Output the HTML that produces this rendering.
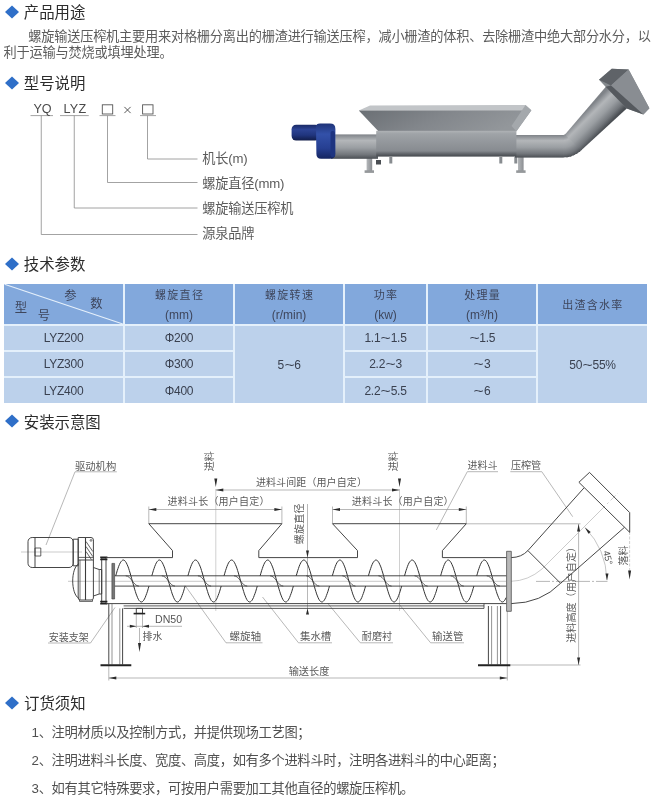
<!DOCTYPE html>
<html lang="zh-CN"><head><meta charset="utf-8">
<title>螺旋输送压榨机</title>
<style>
html,body{margin:0;padding:0;background:#fff}
body{font-family:"Liberation Sans","Noto Sans CJK SC",sans-serif}
#page{position:relative;width:660px;height:801px;overflow:hidden;background:#fff;will-change:transform}
#page section{position:static}
.tx{position:absolute;margin:0;padding:0;white-space:nowrap;font-weight:normal;overflow:hidden;font-family:"Liberation Sans","Noto Sans CJK SC",sans-serif}
.tx svg{position:absolute;left:0;top:0;display:block;overflow:visible}
.tx span{position:absolute;left:0;top:0.5px}
svg text{font-family:"Liberation Sans","Noto Sans CJK SC",sans-serif}
.dia{position:absolute}
.abs{position:absolute;display:block}
.lat{position:absolute;margin:0;white-space:nowrap;color:#4a4a4a}
table.spec{position:absolute;left:4px;top:284px;border-collapse:separate;border-spacing:0;table-layout:fixed;font-size:12px;letter-spacing:-0.25px;color:#3a4150}
table.spec td,table.spec th{padding:0;text-align:center;vertical-align:middle;font-weight:normal;position:relative;overflow:hidden;border-right:2px solid #e4f0fb;border-bottom:2px solid #e4f0fb}
table.spec th{background:#82a8dc;height:40px;color:transparent;font-size:11px;line-height:19px}
table.spec td{background:#bcd1eb}
table.spec .ht{position:absolute;left:0;top:1px;right:0;color:transparent;white-space:nowrap;overflow:hidden;height:38px}
table.spec .last{border-right:0}
table.spec tr:last-child td,table.spec td[rowspan]{border-bottom:0}
table.spec i{font-style:normal;display:inline-block;transform:scaleX(1.45);margin:0 1.8px}
</style></head><body>
<div id="page">
<section id="s1">
<svg class="dia" style="left:4px;top:4.00px" width="16" height="16" viewBox="-8 -8 16 16"><path d="M0-6.6L7 0L0 6.6L-7 0Z" fill="#2f6fc8"/></svg><h2 class="tx hd" style="left:23.75px;top:1.30px;width:64px;height:21px;font-size:15.4px;line-height:21px;color:#2c2c2c"><span>产品用途</span></h2>
<p class="tx" style="left:28.30px;top:27.90px;width:626px;height:18px;font-size:13.2px;line-height:18px;color:#5c5c5c;letter-spacing:-0.22px"><span>螺旋输送压榨机主要用来对格栅分离出的栅渣进行输送压榨，减小栅渣的体积、去除栅渣中绝大部分水分，以</span></p>
<p class="tx" style="left:3.60px;top:43.90px;width:172px;height:18px;font-size:13.2px;line-height:18px;color:#5c5c5c;letter-spacing:-0.2px"><span>利于运输与焚烧或填埋处理。</span></p>
</section>
<section id="s2">
<svg class="dia" style="left:4px;top:75.20px" width="16" height="16" viewBox="-8 -8 16 16"><path d="M0-6.6L7 0L0 6.6L-7 0Z" fill="#2f6fc8"/></svg><h2 class="tx hd" style="left:23.75px;top:72.70px;width:64px;height:21px;font-size:15.4px;line-height:21px;color:#2c2c2c"><span>型号说明</span></h2>
<svg class="abs" style="left:0;top:95px" width="300" height="150" viewBox="0 95 300 150"><g fill="none" stroke="#8c8c8c" stroke-width="0.8"><path d="M30.5 115.6H53"/><path d="M60 115.6H88.75"/><path d="M99.5 115.6H115.5"/><path d="M140 115.6H156"/><path d="M41.25 115.6V234.5H197.5"/><path d="M74.25 115.6V208H197.5"/><path d="M107.5 115.6V182.5H197.5"/><path d="M147.5 115.6V159H197.5"/></g><g fill="none" stroke="#555" stroke-width="0.9"><rect x="102.3" y="104.8" width="10.4" height="9.2"/><rect x="142.6" y="104.8" width="10.4" height="9.2"/><path d="M124.4 106.9l6.2 6.2M130.6 106.9l-6.2 6.2" stroke="#444"/></g></svg>
<div class="lat" style="left:33.4px;top:102px;font-size:12.6px;line-height:14px">YQ</div>
<div class="lat" style="left:63.4px;top:102px;font-size:12.6px;line-height:14px;letter-spacing:0.3px">LYZ</div>
<div class="lat" style="left:101px;top:102px;font-size:12.6px;line-height:14px;color:transparent;letter-spacing:8px">□×□</div>
<div class="tx" style="left:202.30px;top:149.20px;width:47px;height:18px;font-size:13.2px;line-height:18px;color:#5c5c5c;letter-spacing:-0.2px"><span>机长(m)</span></div>
<div class="tx" style="left:202.30px;top:174.80px;width:84px;height:18px;font-size:13.2px;line-height:18px;color:#5c5c5c;letter-spacing:-0.2px"><span>螺旋直径(mm)</span></div>
<div class="tx" style="left:202.30px;top:199.60px;width:94px;height:18px;font-size:13.2px;line-height:18px;color:#5c5c5c;letter-spacing:-0.2px"><span>螺旋输送压榨机</span></div>
<div class="tx" style="left:202.30px;top:224.90px;width:55px;height:18px;font-size:13.2px;line-height:18px;color:#5c5c5c;letter-spacing:-0.2px"><span>源泉品牌</span></div>
<svg class="abs" style="left:280px;top:60px" width="380" height="125" viewBox="280 60 380 125"><defs>
<linearGradient id="gTube" x1="0" y1="0" x2="0" y2="1">
 <stop offset="0" stop-color="#7f8388"/><stop offset="0.25" stop-color="#b3b6b9"/>
 <stop offset="0.55" stop-color="#9a9ea2"/><stop offset="0.82" stop-color="#73777c"/><stop offset="1" stop-color="#4a4e53"/>
</linearGradient>
<linearGradient id="gHop" x1="0" y1="0" x2="1" y2="0.25">
 <stop offset="0" stop-color="#6a6f74"/><stop offset="0.5" stop-color="#82868b"/><stop offset="1" stop-color="#93979b"/>
</linearGradient>
<linearGradient id="gBox" x1="0" y1="0" x2="0" y2="1">
 <stop offset="0" stop-color="#b0b3b6"/><stop offset="0.12" stop-color="#9fa3a7"/>
 <stop offset="0.78" stop-color="#878b90"/><stop offset="0.9" stop-color="#5f6368"/><stop offset="1" stop-color="#45494e"/>
</linearGradient>
<linearGradient id="gBlue" x1="0" y1="0" x2="0" y2="1">
 <stop offset="0" stop-color="#1a2a66"/><stop offset="0.3" stop-color="#2c4394"/>
 <stop offset="0.65" stop-color="#20357e"/><stop offset="1" stop-color="#111c48"/>
</linearGradient>
<linearGradient id="gBlue2" x1="0" y1="0" x2="0" y2="1">
 <stop offset="0" stop-color="#1f3479"/><stop offset="0.3" stop-color="#3351a9"/>
 <stop offset="0.7" stop-color="#263f92"/><stop offset="1" stop-color="#152560"/>
</linearGradient>
<linearGradient id="gPipe" gradientUnits="userSpaceOnUse" x1="583" y1="108" x2="606" y2="130">
 <stop offset="0" stop-color="#62666b"/><stop offset="0.3" stop-color="#a2a6aa"/>
 <stop offset="0.6" stop-color="#868a8f"/><stop offset="1" stop-color="#4a4e53"/>
</linearGradient>
<linearGradient id="gLeg" x1="0" y1="0" x2="1" y2="0">
 <stop offset="0" stop-color="#b4b7ba"/><stop offset="1" stop-color="#8b8e92"/>
</linearGradient>
</defs><rect x="366.6" y="150" width="5.6" height="22" fill="url(#gLeg)"/><rect x="364.6" y="170.3" width="9.4" height="2.6" fill="#95989b"/><rect x="518" y="150" width="5.6" height="22" fill="url(#gLeg)"/><rect x="516.2" y="170.3" width="9.4" height="2.6" fill="#95989b"/><rect x="389.3" y="157" width="3" height="6.5" fill="#888c90"/><rect x="499.3" y="157" width="3" height="6.5" fill="#888c90"/><rect x="514.3" y="157" width="3" height="6.5" fill="#888c90"/><rect x="376" y="160" width="5" height="4.5" fill="#4a4e53"/><rect x="331" y="134.4" width="47" height="24.4" fill="url(#gTube)"/><rect x="515" y="135" width="48.3" height="22.6" fill="url(#gTube)"/><linearGradient id="gE0" href="#gTube" gradientUnits="userSpaceOnUse" x1="563.4" y1="135.0" x2="565.7" y2="157.5"/><path d="M563.0 135.0L563.0 157.6L568.3 157.1L563.8 134.9Z" fill="url(#gE0)"/><linearGradient id="gE1" href="#gTube" gradientUnits="userSpaceOnUse" x1="563.9" y1="134.9" x2="569.1" y2="156.9"/><path d="M563.5 135.0L566.5 157.4L571.7 156.2L564.3 134.8Z" fill="url(#gE1)"/><linearGradient id="gE2" href="#gTube" gradientUnits="userSpaceOnUse" x1="564.4" y1="134.7" x2="572.4" y2="155.9"/><path d="M564.0 134.9L569.9 156.7L574.9 154.8L564.8 134.6Z" fill="url(#gE2)"/><linearGradient id="gE3" href="#gTube" gradientUnits="userSpaceOnUse" x1="564.9" y1="134.5" x2="575.6" y2="154.4"/><path d="M564.5 134.7L573.2 155.6L577.9 153.1L565.2 134.3Z" fill="url(#gE3)"/><linearGradient id="gE4" href="#gTube" gradientUnits="userSpaceOnUse" x1="565.3" y1="134.2" x2="578.5" y2="152.6"/><path d="M565.0 134.5L576.3 154.0L580.6 150.9L565.7 134.0Z" fill="url(#gE4)"/><linearGradient id="gE5" href="#gTube" gradientUnits="userSpaceOnUse" x1="565.7" y1="134.0" x2="580.6" y2="150.9"/><path d="M565.4 134.2L579.2 152.1L582.0 149.6L565.9 133.8Z" fill="url(#gE5)"/><linearGradient id="gPipe2" href="#gTube" gradientUnits="userSpaceOnUse" x1="583.8" y1="112.8" x2="601.8" y2="130.8"/><path d="M565.0 134.6L606 86.4L627 108.2L581.0 150.6Z" fill="url(#gPipe2)"/><path d="M599 79.8 L611.8 68.8 L628.6 69.6 L649.4 108.2 L643.4 114.4 L626.8 108.6 L605.6 86.8Z" fill="#858a8e"/><path d="M599 79.8 L611.8 68.8 L628.6 69.6 L611 85.5Z" fill="#5f6368"/><path d="M611 85.5 L628.6 69.6 L649.4 108.2 L643.4 114.4Z" fill="#898d92"/><path d="M605.6 86.8 L611 85.5 L643.4 114.4 L626.8 108.6Z" fill="#55595e"/><path d="M358.8 110.6 L370 105.6 L525.5 105 L531.4 110.2Z" fill="#c2c5c8"/><path d="M358.8 110.6 L531.4 110.2 L516.4 131.2 L378.6 131.4Z" fill="url(#gHop)"/><path d="M516.4 131.2 L531.4 110.2 L525.5 105 L511.5 126Z" fill="#a4a8ac"/><rect x="376.2" y="130.8" width="140.2" height="25.8" fill="url(#gBox)"/><rect x="291.6" y="124.8" width="28" height="15.8" rx="4.5" fill="url(#gBlue)"/><path d="M316 127 Q316 123.6 320 123.6 L330 123.6 Q335.4 123.6 335.4 129 L335.4 154 Q335.4 158.8 330 158.8 L321 158.8 Q316.4 158.8 316.4 154Z" fill="url(#gBlue2)"/><rect x="330.5" y="131" width="4.5" height="26" rx="2" fill="#1e3480"/></svg>
</section>
<section id="s3">
<svg class="dia" style="left:4px;top:255.80px" width="16" height="16" viewBox="-8 -8 16 16"><path d="M0-6.6L7 0L0 6.6L-7 0Z" fill="#2f6fc8"/></svg><h2 class="tx hd" style="left:23.75px;top:253.80px;width:64px;height:21px;font-size:15.4px;line-height:21px;color:#2c2c2c"><span>技术参数</span></h2>
<table class="spec"><tr style="height:42px"><th style="width:119px"><span class="ht">参数 / 型号</span></th><th style="width:108px"><span class="ht">螺旋直径<br>(mm)</span></th><th style="width:108px"><span class="ht">螺旋转速<br>(r/min)</span></th><th style="width:81px"><span class="ht">功率<br>(kw)</span></th><th style="width:108px"><span class="ht">处理量<br>(m³/h)</span></th><th class="last" style="width:109px"><span class="ht">出渣含水率</span></th></tr><tr style="height:26px"><td>LYZ200</td><td>Φ200</td><td rowspan="3">5<i>~</i>6</td><td>1.1<i>~</i>1.5</td><td><i>~</i>1.5</td><td class="last" rowspan="3">50<i>~</i>55%</td></tr><tr style="height:26px"><td>LYZ300</td><td>Φ300</td><td>2.2<i>~</i>3</td><td><i>~</i>3</td></tr><tr style="height:25px"><td>LYZ400</td><td>Φ400</td><td>2.2<i>~</i>5.5</td><td><i>~</i>6</td></tr></table>
<svg class="abs" style="left:0;top:282px;pointer-events:none" width="660" height="44" viewBox="0 282 660 44"><path d="M4.5 284.3L122.8 324" stroke="#e6f0fb" stroke-width="1.1" fill="none"/>
<text x="70.4" y="299.87" font-size="12.3" text-anchor="middle" fill="#3e465c">参</text>
<text x="96.5" y="307.87" font-size="12.3" text-anchor="middle" fill="#3e465c">数</text>
<text x="20.8" y="312.27" font-size="12.3" text-anchor="middle" fill="#3e465c">型</text>
<text x="44" y="320.27" font-size="12.3" text-anchor="middle" fill="#3e465c">号</text>
<text x="179.6" y="299.38" font-size="11" text-anchor="middle" letter-spacing="1.3" fill="#3e465c">螺旋直径</text>
<text x="179" y="318.56" font-size="12" text-anchor="middle" fill="#3e465c">(mm)</text>
<text x="289.6" y="299.38" font-size="11" text-anchor="middle" letter-spacing="1.3" fill="#3e465c">螺旋转速</text>
<text x="289" y="318.56" font-size="12" text-anchor="middle" fill="#3e465c">(r/min)</text>
<text x="386.1" y="299.38" font-size="11" text-anchor="middle" letter-spacing="1.3" fill="#3e465c">功率</text>
<text x="385.5" y="318.56" font-size="12" text-anchor="middle" fill="#3e465c">(kw)</text>
<text x="482.6" y="299.38" font-size="11" text-anchor="middle" letter-spacing="1.3" fill="#3e465c">处理量</text>
<text x="482" y="318.56" font-size="12" text-anchor="middle" fill="#3e465c">(m³/h)</text>
<text x="592.9" y="308.58" font-size="11" text-anchor="middle" letter-spacing="1.3" fill="#3e465c">出渣含水率</text>
</svg>
</section>
<section id="s4">
<svg class="dia" style="left:4px;top:413.30px" width="16" height="16" viewBox="-8 -8 16 16"><path d="M0-6.6L7 0L0 6.6L-7 0Z" fill="#2f6fc8"/></svg><h2 class="tx hd" style="left:23.75px;top:411.10px;width:79px;height:21px;font-size:15.4px;line-height:21px;color:#2c2c2c"><span>安装示意图</span></h2>
<svg class="abs" style="left:0;top:440px" width="660" height="250" viewBox="0 440 660 250">
<g fill="none" stroke="#9a9a9a" stroke-width="0.7">
<path d="M21 552H82" stroke="#b5b5b5"/>
<path d="M68 581.3H506" stroke="#b0b0b0"/>
<path d="M215.8 489V611M399.5 489V611" stroke="#bcbcbc"/>
<path d="M148.8 506.5V523.5M281.9 506.5V523.5M148.8 509.5H281.9"/>
<path d="M332.5 506.5V523.5M466.3 506.5V523.5M332.5 509.5H466.3"/>
<path d="M215.8 490H399.5"/>
<path d="M307.5 504V614"/>
<path d="M466.3 523.8H580.5M510 665H580.5M578.6 524V665"/>
<path d="M108.8 666V680.5M507.3 611V680.5M108.8 678H507.3"/>
<path d="M136.3 613.5V628M142.5 613.5V628M127 626.3H182"/>
<path d="M139.5 628V646"/>
<path d="M536 581.4H607.5" stroke-dasharray="14 2 2 2"/>
<path d="M606.9 580 A78 78 0 0 0 585 527.6" stroke="#adadad"/>
<path d="M629.6 532V571" stroke="#bdbdbd" stroke-dasharray="3 1.5"/>
<path d="M511 581.3 Q528 581 542 569 L600 511" stroke="#b4b4b4"/>
<path d="M600 511L618 493" stroke="#b4b4b4" stroke-dasharray="7 3 2 3"/>
<path d="M116.8 471.8L75 471.8L46 545"/>
<path d="M48 643L90.5 643L115 607.5"/>
<path d="M262.5 642.8L226 642.8L185 585.5"/>
<path d="M332 642.8L298.5 642.8L262.5 597"/>
<path d="M393 642.8L360.3 642.8L327.5 603"/>
<path d="M464 642.8L430.6 642.8L399 604"/>
<path d="M498 471.7L467.3 471.7L436.3 530"/>
<path d="M510.3 471.7L541.8 471.7L572.7 516.7"/>
</g>
<g fill="none" stroke="#3c3c3c" stroke-width="0.95" stroke-linejoin="round">
<rect x="28" y="537.5" width="45.2" height="30" rx="4.2"/>
<path d="M35 537.5V567.5"/>
<rect x="35" y="548" width="5.8" height="8" stroke-width="0.8"/>
<rect x="73.2" y="539.2" width="5" height="26.6"/>
<path d="M78.2 537.5H91Q93.4 537.5 93.4 540V560H78.2Z"/>
<path d="M85.5 538V600" stroke-width="1.1"/>
<path d="M86 541.5L92.8 551.5M86 546.5L92.8 556.5M86 551.5L91.4 559.5M78.2 557.4H93.4" stroke-width="0.8"/>
<circle cx="91" cy="540.4" r="0.9" stroke-width="0.7"/>
<path d="M79.5 600V601.4H92.5V600" stroke-width="0.8"/>
<path d="M78.2 560V598Q78.2 600 80.5 600H91Q93.4 600 93.4 598V560"/>
<path d="M79 563.5C70.6 568 70.6 594 79 598.5" />
<path d="M80 560V600" stroke-width="0.7"/>
<path d="M93.4 567.5L99.2 569.5H101.7V594H99.2L93.4 596"/>
<path d="M99.2 569.5V594" stroke-width="0.7"/>
<rect x="101.7" y="558" width="4.3" height="45.2"/>
<path d="M100.2 557.2H107.4M100.2 559.4H107.4M100.2 601.6H107.4M100.2 603.8H107.4" stroke="#222" stroke-width="1.6"/>
<path d="M106 557.6H172.5V550.6L148.8 523.7H281.9L258.8 550.6V557.6H357.5V550.6L332.5 523.7H466.3L442.4 550.6V557.6H506.6"/>
<path d="M172.5 550.6H258.8M357.5 550.6H442.4" stroke-width="0"/>
<path d="M106 603.6H506.6"/>
<path d="M123.6 605.9H484M123.6 608.4H484V603.6" stroke-width="0.85"/>
<rect x="111.9" y="563.4" width="2.7" height="35.6" fill="#777" stroke-width="0.6"/>
<path d="M114.8 575.8H506.6M114.8 586.1H506.6"/>
<path d="M115.7 575.8L116.5 573.2L117.2 570.7L118.0 568.4L118.7 566.3L119.5 564.4L120.2 562.9L121.0 561.7L121.8 560.8L122.5 560.2L123.3 560.0L124.0 560.2L124.8 560.7L125.5 561.6L126.3 562.8L127.0 564.3L127.8 566.1L128.6 568.2L129.3 570.5L130.1 573.0L130.8 575.6L131.6 578.3L132.3 581.1L133.1 583.8L133.9 586.5L134.6 589.1L135.4 591.6L136.1 593.9L136.9 595.9L137.6 597.7L138.4 599.3L139.1 600.5L139.9 601.3L140.7 601.8L141.4 602.0L142.2 601.8L142.9 601.2L143.7 600.3L144.4 599.1L145.2 597.5L145.9 595.6L146.7 593.5L147.5 591.2L148.2 588.7L149.0 586.1M151.8 575.8L152.6 573.2L153.3 570.7L154.1 568.4L154.8 566.3L155.6 564.4L156.3 562.9L157.1 561.7L157.9 560.8L158.6 560.2L159.4 560.0L160.1 560.2L160.9 560.7L161.6 561.6L162.4 562.8L163.1 564.3L163.9 566.1L164.7 568.2L165.4 570.5L166.2 573.0L166.9 575.6L167.7 578.3L168.4 581.1L169.2 583.8L170.0 586.5L170.7 589.1L171.5 591.6L172.2 593.9L173.0 595.9L173.7 597.7L174.5 599.3L175.2 600.5L176.0 601.3L176.8 601.8L177.5 602.0L178.3 601.8L179.0 601.2L179.8 600.3L180.5 599.1L181.3 597.5L182.0 595.6L182.8 593.5L183.6 591.2L184.3 588.7L185.1 586.1M187.9 575.8L188.7 573.2L189.4 570.7L190.2 568.4L190.9 566.3L191.7 564.4L192.4 562.9L193.2 561.7L194.0 560.8L194.7 560.2L195.5 560.0L196.2 560.2L197.0 560.7L197.7 561.6L198.5 562.8L199.2 564.3L200.0 566.1L200.8 568.2L201.5 570.5L202.3 573.0L203.0 575.6L203.8 578.3L204.5 581.1L205.3 583.8L206.1 586.5L206.8 589.1L207.6 591.6L208.3 593.9L209.1 595.9L209.8 597.7L210.6 599.3L211.3 600.5L212.1 601.3L212.9 601.8L213.6 602.0L214.4 601.8L215.1 601.2L215.9 600.3L216.6 599.1L217.4 597.5L218.1 595.6L218.9 593.5L219.7 591.2L220.4 588.7L221.2 586.1M224.0 575.8L224.8 573.2L225.5 570.7L226.3 568.4L227.0 566.3L227.8 564.4L228.5 562.9L229.3 561.7L230.1 560.8L230.8 560.2L231.6 560.0L232.3 560.2L233.1 560.7L233.8 561.6L234.6 562.8L235.3 564.3L236.1 566.1L236.9 568.2L237.6 570.5L238.4 573.0L239.1 575.6L239.9 578.3L240.6 581.1L241.4 583.8L242.2 586.5L242.9 589.1L243.7 591.6L244.4 593.9L245.2 595.9L245.9 597.7L246.7 599.3L247.4 600.5L248.2 601.3L249.0 601.8L249.7 602.0L250.5 601.8L251.2 601.2L252.0 600.3L252.7 599.1L253.5 597.5L254.2 595.6L255.0 593.5L255.8 591.2L256.5 588.7L257.3 586.1M260.1 575.8L260.9 573.2L261.6 570.7L262.4 568.4L263.1 566.3L263.9 564.4L264.6 562.9L265.4 561.7L266.2 560.8L266.9 560.2L267.7 560.0L268.4 560.2L269.2 560.7L269.9 561.6L270.7 562.8L271.4 564.3L272.2 566.1L273.0 568.2L273.7 570.5L274.5 573.0L275.2 575.6L276.0 578.3L276.7 581.1L277.5 583.8L278.3 586.5L279.0 589.1L279.8 591.6L280.5 593.9L281.3 595.9L282.0 597.7L282.8 599.3L283.5 600.5L284.3 601.3L285.1 601.8L285.8 602.0L286.6 601.8L287.3 601.2L288.1 600.3L288.8 599.1L289.6 597.5L290.3 595.6L291.1 593.5L291.9 591.2L292.6 588.7L293.4 586.1M296.2 575.8L297.0 573.2L297.7 570.7L298.5 568.4L299.2 566.3L300.0 564.4L300.7 562.9L301.5 561.7L302.3 560.8L303.0 560.2L303.8 560.0L304.5 560.2L305.3 560.7L306.0 561.6L306.8 562.8L307.5 564.3L308.3 566.1L309.1 568.2L309.8 570.5L310.6 573.0L311.3 575.6L312.1 578.3L312.8 581.1L313.6 583.8L314.4 586.5L315.1 589.1L315.9 591.6L316.6 593.9L317.4 595.9L318.1 597.7L318.9 599.3L319.6 600.5L320.4 601.3L321.2 601.8L321.9 602.0L322.7 601.8L323.4 601.2L324.2 600.3L324.9 599.1L325.7 597.5L326.4 595.6L327.2 593.5L328.0 591.2L328.7 588.7L329.5 586.1M332.3 575.8L333.1 573.2L333.8 570.7L334.6 568.4L335.3 566.3L336.1 564.4L336.8 562.9L337.6 561.7L338.4 560.8L339.1 560.2L339.9 560.0L340.6 560.2L341.4 560.7L342.1 561.6L342.9 562.8L343.6 564.3L344.4 566.1L345.2 568.2L345.9 570.5L346.7 573.0L347.4 575.6L348.2 578.3L348.9 581.1L349.7 583.8L350.5 586.5L351.2 589.1L352.0 591.6L352.7 593.9L353.5 595.9L354.2 597.7L355.0 599.3L355.7 600.5L356.5 601.3L357.3 601.8L358.0 602.0L358.8 601.8L359.5 601.2L360.3 600.3L361.0 599.1L361.8 597.5L362.5 595.6L363.3 593.5L364.1 591.2L364.8 588.7L365.6 586.1M368.4 575.8L369.2 573.2L369.9 570.7L370.7 568.4L371.4 566.3L372.2 564.4L372.9 562.9L373.7 561.7L374.5 560.8L375.2 560.2L376.0 560.0L376.7 560.2L377.5 560.7L378.2 561.6L379.0 562.8L379.7 564.3L380.5 566.1L381.3 568.2L382.0 570.5L382.8 573.0L383.5 575.6L384.3 578.3L385.0 581.1L385.8 583.8L386.6 586.5L387.3 589.1L388.1 591.6L388.8 593.9L389.6 595.9L390.3 597.7L391.1 599.3L391.8 600.5L392.6 601.3L393.4 601.8L394.1 602.0L394.9 601.8L395.6 601.2L396.4 600.3L397.1 599.1L397.9 597.5L398.6 595.6L399.4 593.5L400.2 591.2L400.9 588.7L401.7 586.1M404.5 575.8L405.3 573.2L406.0 570.7L406.8 568.4L407.5 566.3L408.3 564.4L409.0 562.9L409.8 561.7L410.6 560.8L411.3 560.2L412.1 560.0L412.8 560.2L413.6 560.7L414.3 561.6L415.1 562.8L415.8 564.3L416.6 566.1L417.4 568.2L418.1 570.5L418.9 573.0L419.6 575.6L420.4 578.3L421.1 581.1L421.9 583.8L422.7 586.5L423.4 589.1L424.2 591.6L424.9 593.9L425.7 595.9L426.4 597.7L427.2 599.3L427.9 600.5L428.7 601.3L429.5 601.8L430.2 602.0L431.0 601.8L431.7 601.2L432.5 600.3L433.2 599.1L434.0 597.5L434.7 595.6L435.5 593.5L436.3 591.2L437.0 588.7L437.8 586.1M440.6 575.8L441.4 573.2L442.1 570.7L442.9 568.4L443.6 566.3L444.4 564.4L445.1 562.9L445.9 561.7L446.7 560.8L447.4 560.2L448.2 560.0L448.9 560.2L449.7 560.7L450.4 561.6L451.2 562.8L451.9 564.3L452.7 566.1L453.5 568.2L454.2 570.5L455.0 573.0L455.7 575.6L456.5 578.3L457.2 581.1L458.0 583.8L458.8 586.5L459.5 589.1L460.3 591.6L461.0 593.9L461.8 595.9L462.5 597.7L463.3 599.3L464.0 600.5L464.8 601.3L465.6 601.8L466.3 602.0L467.1 601.8L467.8 601.2L468.6 600.3L469.3 599.1L470.1 597.5L470.8 595.6L471.6 593.5L472.4 591.2L473.1 588.7L473.9 586.1M476.7 575.8L477.5 573.2L478.2 570.7L479.0 568.4L479.7 566.3L480.5 564.4L481.2 562.9L482.0 561.7L482.8 560.8L483.5 560.2L484.3 560.0L485.0 560.2L485.8 560.7L486.5 561.6L487.3 562.8L488.0 564.3L488.8 566.1L489.6 568.2L490.3 570.5L491.1 573.0L491.8 575.6L492.6 578.3L493.3 581.1L494.1 583.8L494.9 586.5L495.6 589.1L496.4 591.6L497.1 593.9L497.9 595.9L498.6 597.7L499.4 599.3L500.1 600.5L500.9 601.3L501.7 601.8L502.4 602.0L503.2 601.8L503.9 601.2L504.7 600.3L505.4 599.1L506.2 597.5" stroke="#333" stroke-width="1"/>
<path d="M125.7 575.8C131.2 575.8 133.4 586.1 138.9 586.1M161.8 575.8C167.3 575.8 169.5 586.1 175.0 586.1M197.9 575.8C203.4 575.8 205.6 586.1 211.1 586.1M234.0 575.8C239.5 575.8 241.7 586.1 247.2 586.1M270.1 575.8C275.6 575.8 277.8 586.1 283.3 586.1M306.2 575.8C311.7 575.8 313.9 586.1 319.4 586.1M342.3 575.8C347.8 575.8 350.0 586.1 355.5 586.1M378.4 575.8C383.9 575.8 386.1 586.1 391.6 586.1M414.5 575.8C420.0 575.8 422.2 586.1 427.7 586.1M450.6 575.8C456.1 575.8 458.3 586.1 463.8 586.1M486.7 575.8C492.2 575.8 494.4 586.1 499.9 586.1" stroke-width="0.8"/>
<rect x="506.6" y="551.3" width="4.7" height="60" fill="#b8b8b8" stroke="#505050" stroke-width="0.8"/>
<path d="M511.3 557.6Q521.5 557.4 527.9 550.6L583.9 488"/>
<path d="M511.3 603.6Q541 603.2 560.6 583.3L624.4 527.4"/>
<path d="M527.9 550.6L560.6 583.3"/>
<path d="M578.9 482.3L589.5 472.4L629.7 512.6V532.3Z"/>
<path d="M108.8 604V664.5M122.6 608.4V664.5M488.4 606V664.5M500.6 606V664.5"/>
<path d="M112 604V664.5M119.8 608.4V664.5M491.6 606V664.5M497.4 606V664.5" stroke-width="0.7" stroke="#666"/>
<path d="M100.5 665.2H131.3M478 665.2H510.3" stroke="#222" stroke-width="2"/>
<rect x="136.3" y="608.4" width="6.2" height="5"/>
<path d="M133.6 613.6H145.2" stroke="#222" stroke-width="1.6"/>
</g>
<path d="M148.80 509.50L156.30 508.00L156.30 511.00Z" fill="#2a2a2a"/>
<path d="M281.90 509.50L274.40 511.00L274.40 508.00Z" fill="#2a2a2a"/>
<path d="M332.50 509.50L340.00 508.00L340.00 511.00Z" fill="#2a2a2a"/>
<path d="M466.30 509.50L458.80 511.00L458.80 508.00Z" fill="#2a2a2a"/>
<path d="M215.80 490.00L223.30 488.50L223.30 491.50Z" fill="#2a2a2a"/>
<path d="M399.50 490.00L392.00 491.50L392.00 488.50Z" fill="#2a2a2a"/>
<path d="M215.80 487.00L214.30 478.50L217.30 478.50Z" fill="#2a2a2a"/>
<path d="M399.50 487.00L398.00 478.50L401.00 478.50Z" fill="#2a2a2a"/>
<path d="M307.50 557.40L306.00 550.40L309.00 550.40Z" fill="#2a2a2a"/>
<path d="M307.50 608.60L309.00 614.60L306.00 614.60Z" fill="#2a2a2a"/>
<path d="M578.60 524.00L580.10 531.50L577.10 531.50Z" fill="#2a2a2a"/>
<path d="M578.60 665.00L577.10 657.50L580.10 657.50Z" fill="#2a2a2a"/>
<path d="M108.80 678.00L116.30 676.50L116.30 679.50Z" fill="#2a2a2a"/>
<path d="M507.30 678.00L499.80 679.50L499.80 676.50Z" fill="#2a2a2a"/>
<path d="M136.30 626.30L129.80 627.80L129.80 624.80Z" fill="#2a2a2a"/>
<path d="M142.50 626.30L149.00 624.80L149.00 627.80Z" fill="#2a2a2a"/>
<path d="M139.50 652.00L138.00 643.00L141.00 643.00Z" fill="#2a2a2a"/>
<path d="M585.00 527.60L590.72 531.90L588.46 533.87Z" fill="#2a2a2a"/>
<path d="M607.00 580.50L605.50 573.50L608.50 573.50Z" fill="#2a2a2a"/>
<path d="M629.60 579.50L628.10 570.50L631.10 570.50Z" fill="#2a2a2a"/>
<g transform="translate(75.00,465.80)"><text x="0" y="3.9" font-size="10.3" text-anchor="start" fill="#5a5a5a">驱动机构</text></g>
<g transform="translate(48.80,636.70)"><text x="0" y="3.8" font-size="10.0" text-anchor="start" fill="#5a5a5a">安装支架</text></g>
<g transform="translate(142.60,636.00)"><text x="0" y="3.7" font-size="9.8" text-anchor="start" fill="#5a5a5a">排水</text></g>
<g transform="translate(229.40,636.20)"><text x="0" y="4.0" font-size="10.6" text-anchor="start" fill="#5a5a5a">螺旋轴</text></g>
<g transform="translate(300.00,636.20)"><text x="0" y="4.0" font-size="10.4" text-anchor="start" fill="#5a5a5a">集水槽</text></g>
<g transform="translate(361.80,636.20)"><text x="0" y="3.8" font-size="10.1" text-anchor="start" fill="#5a5a5a">耐磨衬</text></g>
<g transform="translate(432.10,636.20)"><text x="0" y="4.0" font-size="10.4" text-anchor="start" fill="#5a5a5a">输送管</text></g>
<g transform="translate(467.50,465.20)"><text x="0" y="3.8" font-size="10.0" text-anchor="start" fill="#5a5a5a">进料斗</text></g>
<g transform="translate(510.90,465.20)"><text x="0" y="3.8" font-size="10.1" text-anchor="start" fill="#5a5a5a">压榨管</text></g>
<g transform="translate(309.00,670.60)"><text x="0" y="3.9" font-size="10.2" text-anchor="middle" fill="#5a5a5a">输送长度</text></g>
<g transform="translate(167.60,501.60)"><text x="0" y="3.8" font-size="10" text-anchor="start" letter-spacing="0.2" fill="#5a5a5a">进料斗长（用户自定）</text></g>
<g transform="translate(351.80,501.60)"><text x="0" y="3.8" font-size="10" text-anchor="start" letter-spacing="0.2" fill="#5a5a5a">进料斗长（用户自定）</text></g>
<g transform="translate(255.90,482.60)"><text x="0" y="3.8" font-size="10" text-anchor="start" letter-spacing="0.1" fill="#5a5a5a">进料斗间距（用户自定）</text></g>
<g transform="translate(209.20,461.20) rotate(-90)"><text x="0" y="3.8" font-size="10" text-anchor="middle" fill="#5a5a5a">进料</text></g>
<g transform="translate(393.40,461.20) rotate(-90)"><text x="0" y="3.8" font-size="10" text-anchor="middle" fill="#5a5a5a">进料</text></g>
<g transform="translate(299.20,523.80) rotate(-90)"><text x="0" y="3.8" font-size="10" text-anchor="middle" letter-spacing="0.2" fill="#5a5a5a">螺旋直径</text></g>
<g transform="translate(571.20,642.80) rotate(-90)"><text x="0" y="3.8" font-size="10.1" text-anchor="start" fill="#5a5a5a">进料高度（用户自定）</text></g>
<g transform="translate(623.60,555.60) rotate(-90)"><text x="0" y="3.8" font-size="10" text-anchor="middle" fill="#5a5a5a">落料</text></g>
<text x="155" y="623.4" font-size="10.6" fill="#555" style="font-family:'Liberation Sans',sans-serif">DN50</text>
<text transform="translate(607.9,557.6) rotate(76)" x="0" y="3.2" text-anchor="middle" font-size="9.5" fill="#555" style="font-family:'Liberation Sans',sans-serif">45°</text>
</svg>
</section>
<section id="s5">
<svg class="dia" style="left:4px;top:695.30px" width="16" height="16" viewBox="-8 -8 16 16"><path d="M0-6.6L7 0L0 6.6L-7 0Z" fill="#2f6fc8"/></svg><h2 class="tx hd" style="left:24.00px;top:692.90px;width:64px;height:21px;font-size:15.4px;line-height:21px;color:#2c2c2c"><span>订货须知</span></h2>
<p class="tx" style="left:31.60px;top:723.20px;width:282px;height:18px;font-size:13.3px;line-height:18px;color:#505050;letter-spacing:-0.36px"><span>1、注明材质以及控制方式，并提供现场工艺图；</span></p>
<p class="tx" style="left:31.60px;top:751.60px;width:476px;height:18px;font-size:13.3px;line-height:18px;color:#505050;letter-spacing:-0.36px"><span>2、注明进料斗长度、宽度、高度，如有多个进料斗时，注明各进料斗的中心距离；</span></p>
<p class="tx" style="left:31.60px;top:779.60px;width:386px;height:18px;font-size:13.3px;line-height:18px;color:#505050;letter-spacing:-0.36px"><span>3、如有其它特殊要求，可按用户需要加工其他直径的螺旋压榨机。</span></p>
</section>
</div>
</body></html>
